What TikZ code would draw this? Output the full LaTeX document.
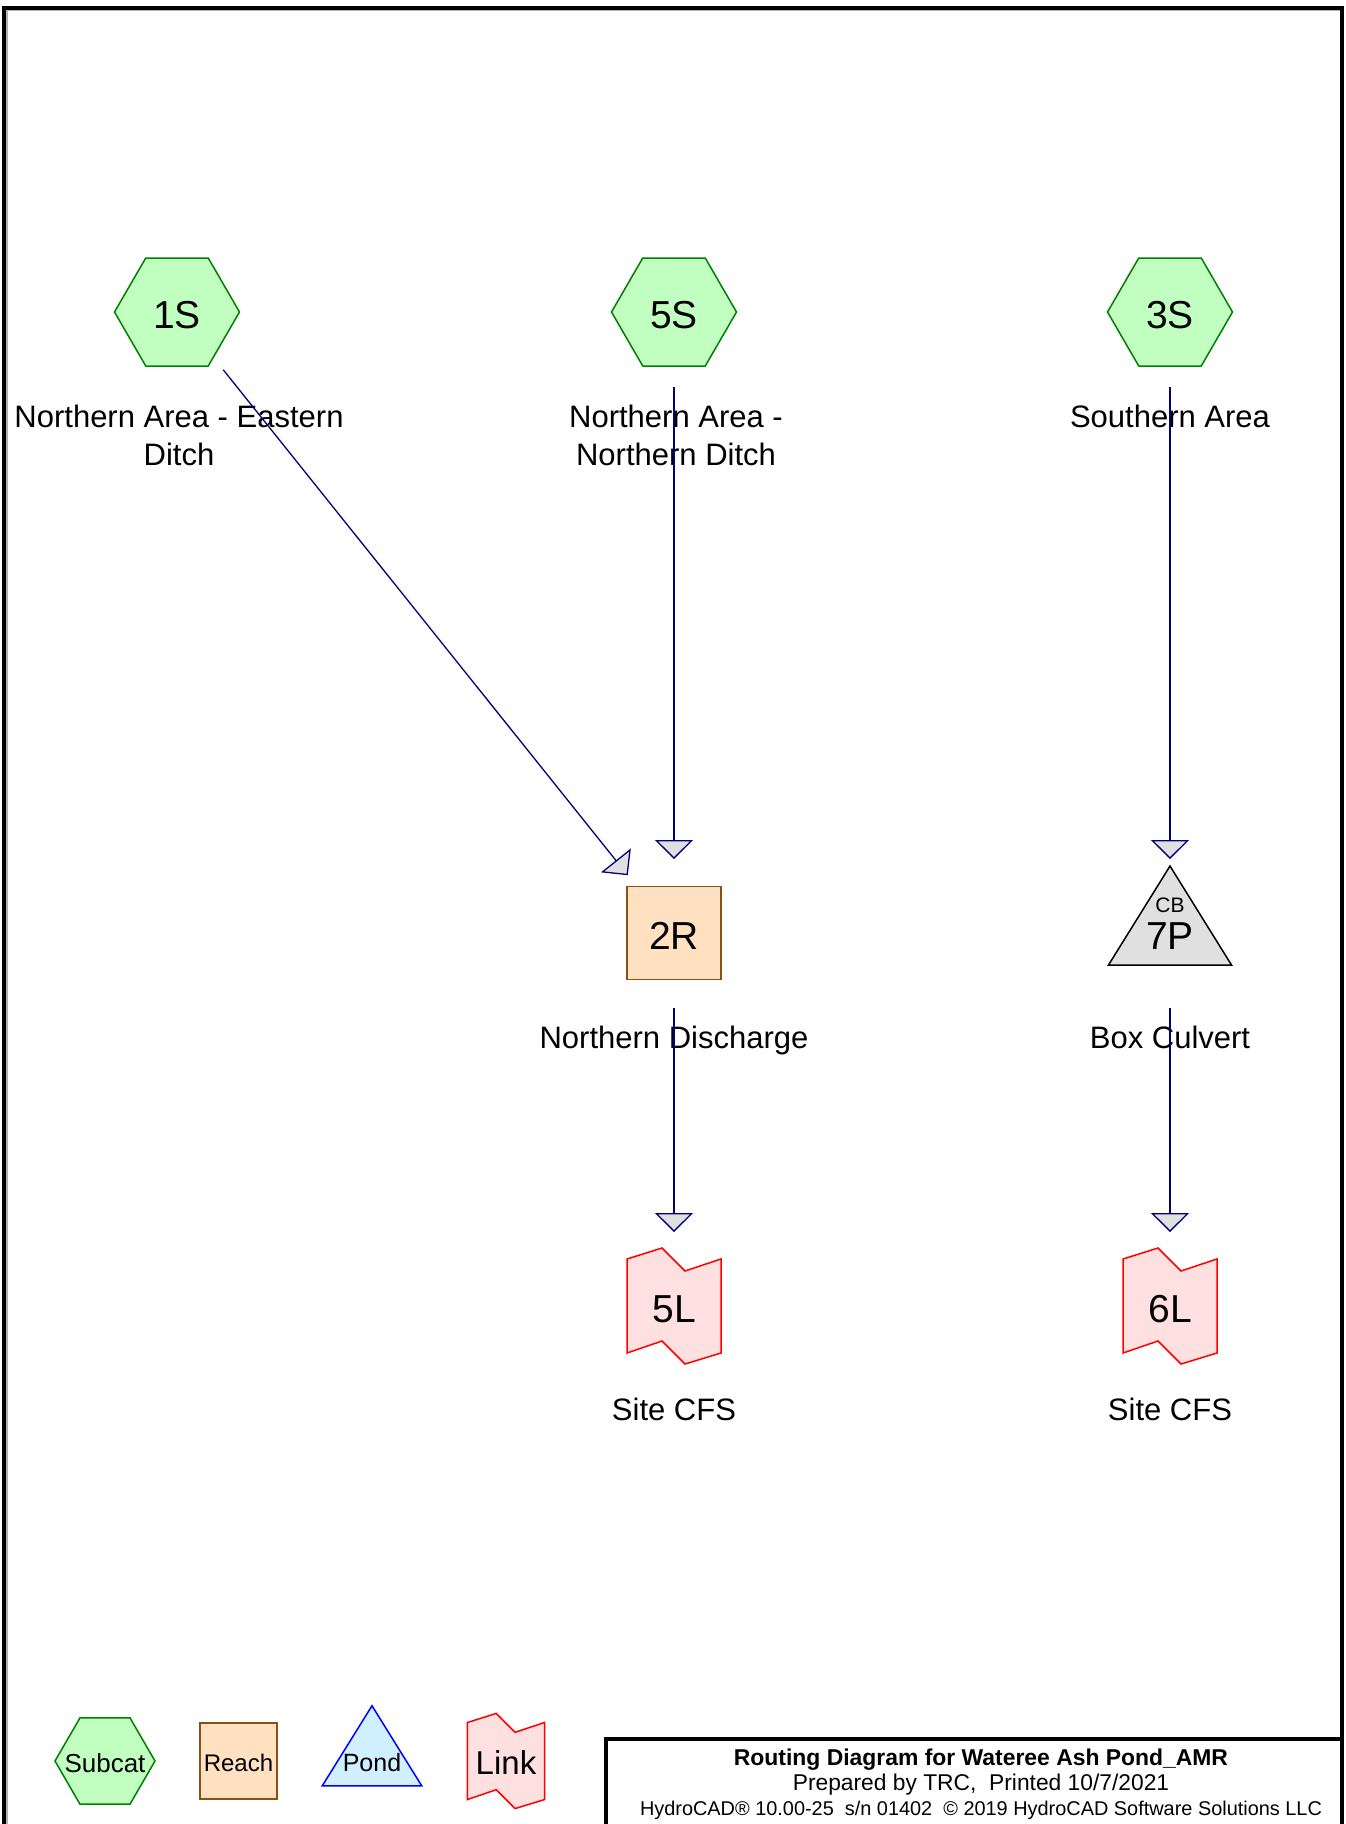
\documentclass[tikz,border=0pt]{standalone}
\usepackage{fontspec}
\setmainfont{Liberation Sans}
\usetikzlibrary{arrows.meta,backgrounds}
\definecolor{navyline}{RGB}{0,0,128}
\definecolor{arrowgray}{RGB}{224,224,224}
\definecolor{subfill}{RGB}{192,255,192}
\definecolor{subdraw}{RGB}{0,128,0}
\definecolor{reachfill}{RGB}{255,224,192}
\definecolor{reachdraw}{RGB}{140,80,20}
\definecolor{pondgray}{RGB}{224,224,224}
\definecolor{pondfill}{RGB}{208,240,255}
\definecolor{linkfill}{RGB}{255,224,224}
\begin{document}
\begin{tikzpicture}[x=1pt,y=-1pt,
  idtext/.style={font=\fontsize{39}{41}\selectfont, inner sep=0pt, text height=32pt, text depth=0pt},
  cbtext/.style={font=\fontsize{21}{23}\selectfont, inner sep=0pt},
  lbl/.style={font=\fontsize{31}{38}\selectfont, align=center, inner sep=0pt},
  lblone/.style={font=\fontsize{31}{38}\selectfont, inner sep=0pt, text height=22pt, text depth=0pt},
  flow/.style={draw=navyline, line width=1.3pt,
    -{Triangle[length=19pt,width=38pt,fill=arrowgray]},
    shorten <=75pt, shorten >=74pt},
  pics/hexa/.style={code={\filldraw[fill=subfill,draw=subdraw,line width=1.5pt]
    (-62.5,0) -- (-31.25,-54) -- (31.25,-54) -- (62.5,0) -- (31.25,54) -- (-31.25,54) -- cycle;}},
  pics/reachbox/.style={code={\filldraw[fill=reachfill,draw=reachdraw,line width=1.5pt]
    (-47,-46.5) rectangle (47,46.5);}},
  pics/tri/.style args={#1/#2}{code={\filldraw[fill=#1,draw=#2,line width=1.5pt]
    (0,-67) -- (61.5,32) -- (-61.5,32) -- cycle;}},
  pics/linkshape/.style={code={\filldraw[fill=linkfill,draw=red,line width=1.5pt]
    (-47,-47) -- (-12,-58) -- (11,-35) -- (47,-47) -- (47,47) -- (11,58) -- (-12,35) -- (-47,47) -- cycle;}}
]
\useasboundingbox (0,0) rectangle (1345,1824);
\begin{scope}[on background layer]
  \fill[white] (0,0) rectangle (1345,1824);
\end{scope}

% outer frame
\draw[gray!60, line width=1.2pt] (7,1830) -- (7,10.5) -- (1340,10.5);
\draw[line width=4pt] (4,1830) -- (4,8) -- (1342,8) -- (1342,1830);

% nodes (ids)
\node[idtext] (1S) at (177,312) {1S};
\node[idtext] (5S) at (674,312) {5S};
\node[idtext] (3S) at (1170,312) {3S};
\node[idtext] (2R) at (674,933) {2R};
\node[idtext] (7P) at (1170,933) {7P};
\node[cbtext] (cb) at (1170,905) {CB};
\node[idtext] (5L) at (674,1306) {5L};
\node[idtext] (6L) at (1170,1306) {6L};

\begin{scope}[on background layer]
  \pic at (1S) {hexa};
  \pic at (5S) {hexa};
  \pic at (3S) {hexa};
  \pic at (2R) {reachbox};
  \pic at (7P) {tri={pondgray/black}};
  \pic at (5L) {linkshape};
  \pic at (6L) {linkshape};
\end{scope}

% labels
\node[lbl] (l1S) at (179,435) {Northern Area - Eastern\\Ditch};
\node[lbl] (l5S) at (676,435) {Northern Area -\\Northern Ditch};
\node[lblone] (l3S) at (1170,416) {Southern Area};
\node[lblone] (l2R) at (674,1037) {Northern Discharge};
\node[lblone] (l7P) at (1170,1037) {Box Culvert};
\node[lblone] (l5L) at (674,1409) {Site CFS};
\node[lblone] (l6L) at (1170,1409) {Site CFS};

% connectors
\draw[flow, shorten <=74pt] (1S.center) -- (2R.center);
\draw[flow] (5S.center) -- (2R.center);
\draw[flow] (3S.center) -- (7P.center);
\draw[flow] (2R.center) -- (5L.center);
\draw[flow] (7P.center) -- (6L.center);

% legend
\node[inner sep=0pt, font=\fontsize{26}{28}\selectfont] (legSub) at (105,1763) {Subcat};
\node[inner sep=0pt, font=\fontsize{24}{26}\selectfont] (legReach) at (238.5,1763) {Reach};
\node[inner sep=0pt, font=\fontsize{25}{27}\selectfont] (legPond) at (372,1763) {Pond};
\node[inner sep=0pt, font=\fontsize{33}{35}\selectfont] (legLink) at (506,1763) {Link};
\begin{scope}[on background layer]
  \pic[scale=0.8] at (105,1761) {hexa};
  \pic[scale=0.82] at (238.5,1761) {reachbox};
  \pic[scale=0.81] at (372,1760) {tri={pondfill/blue}};
  \pic[scale=0.82] at (506,1761) {linkshape};
\end{scope}

% title block
\draw[line width=4pt] (606,1830) -- (606,1739) -- (1342,1739);
\node[inner sep=0pt, align=center, font=\fontsize{22.8}{25}\selectfont] (title) at (981,1784)
  {{\bfseries\fontsize{22.9}{25}\selectfont Routing Diagram for Wateree Ash Pond\_AMR}\\
   Prepared by TRC,\ \ Printed 10/7/2021\hspace{8pt}\\
   {\fontsize{19.9}{25}\selectfont HydroCAD® 10.00-25\ \ s/n 01402\ \ © 2019 HydroCAD Software Solutions LLC}};
\end{tikzpicture}
\end{document}
